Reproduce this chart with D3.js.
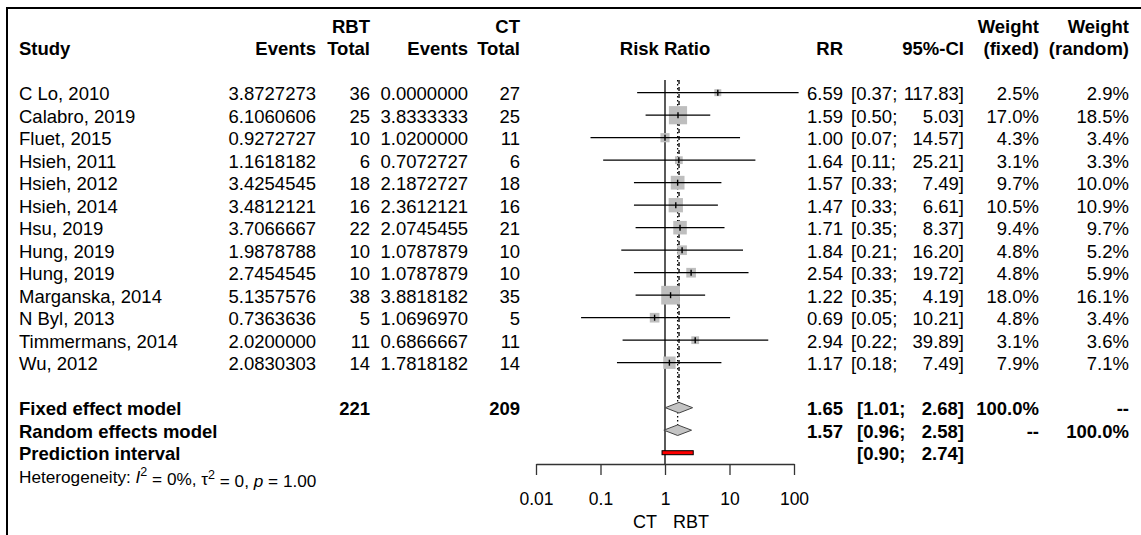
<!DOCTYPE html>
<html>
<head>
<meta charset="utf-8">
<script src="https://cdn.jsdelivr.net/npm/d3@7"></script>
<style>
  html, body { margin: 0; padding: 0; background: #fff; }
  svg { display: block; }
  text { font-family: "Liberation Sans", Arial, sans-serif; fill: #000; }
</style>
</head>
<body>
<svg id="chart" width="1141" height="535"></svg>
<script>
// Study-level data (risk ratio, RBT vs CT)
const studies = ["C Lo, 2010", "Calabro, 2019", "Fluet, 2015", "Hsieh, 2011", "Hsieh, 2012",
  "Hsieh, 2014", "Hsu, 2019", "Hung, 2019", "Hung, 2019", "Marganska, 2014", "N Byl, 2013",
  "Timmermans, 2014", "Wu, 2012"];
const eventsRBT = ["3.8727273", "6.1060606", "0.9272727", "1.1618182", "3.4254545", "3.4812121",
  "3.7066667", "1.9878788", "2.7454545", "5.1357576", "0.7363636", "2.0200000", "2.0830303"];
const totalRBT = [36, 25, 10, 6, 18, 16, 22, 10, 10, 38, 5, 11, 14];
const eventsCT = ["0.0000000", "3.8333333", "1.0200000", "0.7072727", "2.1872727", "2.3612121",
  "2.0745455", "1.0787879", "1.0787879", "3.8818182", "1.0696970", "0.6866667", "1.7818182"];
const totalCT = [27, 25, 11, 6, 18, 16, 21, 10, 10, 35, 5, 11, 14];
const rr = [6.59, 1.59, 1.00, 1.64, 1.57, 1.47, 1.71, 1.84, 2.54, 1.22, 0.69, 2.94, 1.17];
const ciLower = [0.37, 0.50, 0.07, 0.11, 0.33, 0.33, 0.35, 0.21, 0.33, 0.35, 0.05, 0.22, 0.18];
const ciUpper = [117.83, 5.03, 14.57, 25.21, 7.49, 6.61, 8.37, 16.20, 19.72, 4.19, 10.21, 39.89, 7.49];
const weightFixed = [2.5, 17.0, 4.3, 3.1, 9.7, 10.5, 9.4, 4.8, 4.8, 18.0, 4.8, 3.1, 7.9];
const weightRandom = [2.9, 18.5, 3.4, 3.3, 10.0, 10.9, 9.7, 5.2, 5.9, 16.1, 3.4, 3.6, 7.1];

// Pooled estimates
const summaryLabels = ["Fixed effect model", "Random effects model", "Prediction interval"];
const summaryEst = [1.65, 1.57, null];
const summaryLower = [1.01, 0.96, 0.90];
const summaryUpper = [2.68, 2.58, 2.74];
const summaryWFixed = ["100.0%", "--", ""];
const summaryWRandom = ["--", "100.0%", ""];
const pooledTotals = [221, 209];

const axisTicks = [0.01, 0.1, 1, 10, 100];
const axisTickLabels = ["0.01", "0.1", "1", "10", "100"];

const svg = d3.select("#chart");
svg.append("rect").attr("width", 1141).attr("height", 535).attr("fill", "#fff");

// frame lines (top and left)
svg.append("path").attr("d", "M7,535 V8 H1141").attr("fill", "none")
  .attr("stroke", "#000").attr("stroke-width", 2);

const x = d3.scaleLog().domain([0.01, 100]).range([536, 794]);
// row index -> vertical centre (headers at -3/-2, studies 0..12, pooled rows 14..16)
const rowY = d3.scaleLinear().domain([0, 1]).range([92.7, 115.2]);
const textShift = 1.3;

const fs = 18.5;
const fmt2 = d3.format(".2f");
const fmtPct = d => d3.format(".1f")(d) + "%";

function txt(xp, yc, s, anchor, bold, size) {
  return svg.append("text")
    .attr("x", xp).attr("y", yc + textShift).attr("dy", "0.35em")
    .attr("text-anchor", anchor || "start")
    .attr("font-size", size || fs)
    .attr("font-weight", bold ? "bold" : "normal")
    .text(s);
}

// column anchor positions
const col = { study: 19, evR: 316, totR: 370, evC: 468, totC: 520, rr: 843,
  ciL: 851, ciLb: 857, ciR: 964, wf: 1039, wr: 1129 };

// headers
const h1 = rowY(-3), h2 = rowY(-2);
txt(col.totR, h1, "RBT", "end", true);
txt(col.totC, h1, "CT", "end", true);
txt(col.wf, h1, "Weight", "end", true);
txt(col.wr, h1, "Weight", "end", true);
txt(col.study, h2, "Study", "start", true);
txt(col.evR, h2, "Events", "end", true);
txt(col.totR, h2, "Total", "end", true);
txt(col.evC, h2, "Events", "end", true);
txt(col.totC, h2, "Total", "end", true);
txt(x(1), h2, "Risk Ratio", "middle", true);
txt(col.rr, h2, "RR", "end", true);
txt(col.ciR, h2, "95%-CI", "end", true);
txt(col.wf, h2, "(fixed)", "end", true);
txt(col.wr, h2, "(random)", "end", true);

// study rows
studies.forEach((s, i) => {
  const y = rowY(i);
  txt(col.study, y, s, "start");
  txt(col.evR, y, eventsRBT[i], "end");
  txt(col.totR, y, totalRBT[i], "end");
  txt(col.evC, y, eventsCT[i], "end");
  txt(col.totC, y, totalCT[i], "end");
  txt(col.rr, y, fmt2(rr[i]), "end");
  txt(col.ciL, y, "[" + fmt2(ciLower[i]) + ";", "start");
  txt(col.ciR, y, fmt2(ciUpper[i]) + "]", "end");
  txt(col.wf, y, fmtPct(weightFixed[i]), "end");
  txt(col.wr, y, fmtPct(weightRandom[i]), "end");
});

// pooled rows
const summaryY = [rowY(14), rowY(15), rowY(16)];
summaryLabels.forEach((s, i) => {
  const y = summaryY[i];
  txt(col.study, y, s, "start", true);
  if (summaryEst[i] !== null) txt(col.rr, y, fmt2(summaryEst[i]), "end", true);
  txt(col.ciLb, y, "[" + fmt2(summaryLower[i]) + ";", "start", true);
  txt(col.ciR, y, fmt2(summaryUpper[i]) + "]", "end", true);
  if (summaryWFixed[i]) txt(col.wf, y, summaryWFixed[i], "end", true);
  if (summaryWRandom[i]) txt(col.wr, y, summaryWRandom[i], "end", true);
});
txt(col.totR, summaryY[0], pooledTotals[0], "end", true);
txt(col.totC, summaryY[0], pooledTotals[1], "end", true);

// heterogeneity line
const het = svg.append("text").attr("x", col.study).attr("y", rowY(17) + textShift).attr("dy", "0.35em")
  .attr("font-size", 17.2);
het.append("tspan").text("Heterogeneity: ");
het.append("tspan").attr("font-style", "italic").text("I");
het.append("tspan").attr("dy", "-0.5em").attr("font-size", 12.5).text("2");
het.append("tspan").attr("dy", "0.5em").text(" = 0%, \u03c4");
het.append("tspan").attr("dy", "-0.5em").attr("font-size", 12.5).text("2");
het.append("tspan").attr("dy", "0.5em").text(" = 0, ");
het.append("tspan").attr("font-style", "italic").text("p");
het.append("tspan").text(" = 1.00");

// reference lines: no effect (solid), fixed (dashed), random (dotted)
const plotTop = 80, axisY = 464, dh = 5.3;
svg.append("line").attr("x1", x(1)).attr("x2", x(1)).attr("y1", plotTop).attr("y2", axisY)
  .attr("stroke", "#000").attr("stroke-width", 1.3);
svg.append("line").attr("x1", x(summaryEst[0])).attr("x2", x(summaryEst[0]))
  .attr("y1", plotTop).attr("y2", summaryY[0] - dh)
  .attr("stroke", "#000").attr("stroke-width", 1.3).attr("stroke-dasharray", "4,3");
svg.append("line").attr("x1", x(summaryEst[1])).attr("x2", x(summaryEst[1]))
  .attr("y1", plotTop).attr("y2", summaryY[1] - dh)
  .attr("stroke", "#000").attr("stroke-width", 1.3).attr("stroke-dasharray", "1.5,2.5");

// study squares, CIs and point ticks
const sqSize = d3.scaleSqrt().domain([0, 18]).range([0, 18.7]);
const g = svg.append("g");
studies.forEach((s, i) => {
  const y = rowY(i), cx = x(rr[i]), w = sqSize(weightFixed[i]);
  g.append("rect").attr("x", cx - w / 2).attr("y", y - w / 2).attr("width", w).attr("height", w)
    .attr("fill", "#bebebe");
  g.append("line").attr("x1", x(ciLower[i])).attr("x2", x(ciUpper[i])).attr("y1", y).attr("y2", y)
    .attr("stroke", "#000").attr("stroke-width", 1.2);
  g.append("line").attr("x1", cx).attr("x2", cx).attr("y1", y - 3).attr("y2", y + 3)
    .attr("stroke", "#000").attr("stroke-width", 1.4);
});

// pooled diamonds
[0, 1].forEach(i => {
  const y = summaryY[i];
  const pts = [[x(summaryLower[i]), y], [x(summaryEst[i]), y - dh], [x(summaryUpper[i]), y], [x(summaryEst[i]), y + dh]];
  svg.append("polygon").attr("points", pts.map(p => p.join(",")).join(" "))
    .attr("fill", "#c4c4c4").attr("stroke", "#444").attr("stroke-width", 1);
});

// prediction interval bar
svg.append("rect").attr("x", x(summaryLower[2])).attr("y", summaryY[2] - 2)
  .attr("width", x(summaryUpper[2]) - x(summaryLower[2])).attr("height", 4)
  .attr("fill", "#ff0000").attr("stroke", "#000").attr("stroke-width", 1);

// axis
const axis = svg.append("g").attr("transform", `translate(0,${axisY})`)
  .call(d3.axisBottom(x).tickValues(axisTicks).tickSize(11).tickSizeOuter(0)
    .tickFormat((d, i) => axisTickLabels[i]));
axis.select(".domain").attr("stroke", "#333").attr("stroke-width", 1.3);
axis.selectAll(".tick line").attr("stroke", "#333").attr("stroke-width", 1.3);
axis.selectAll(".tick text").attr("font-size", 17.5).attr("font-family", "Liberation Sans, Arial, sans-serif")
  .attr("fill", "#000").attr("dy", 0).attr("y", 41);

svg.append("text").attr("x", x(1) - 8).attr("y", 528).attr("text-anchor", "end")
  .attr("font-size", 18).text("CT");
svg.append("text").attr("x", x(1) + 8).attr("y", 528).attr("text-anchor", "start")
  .attr("font-size", 18).text("RBT");
</script>
</body>
</html>
